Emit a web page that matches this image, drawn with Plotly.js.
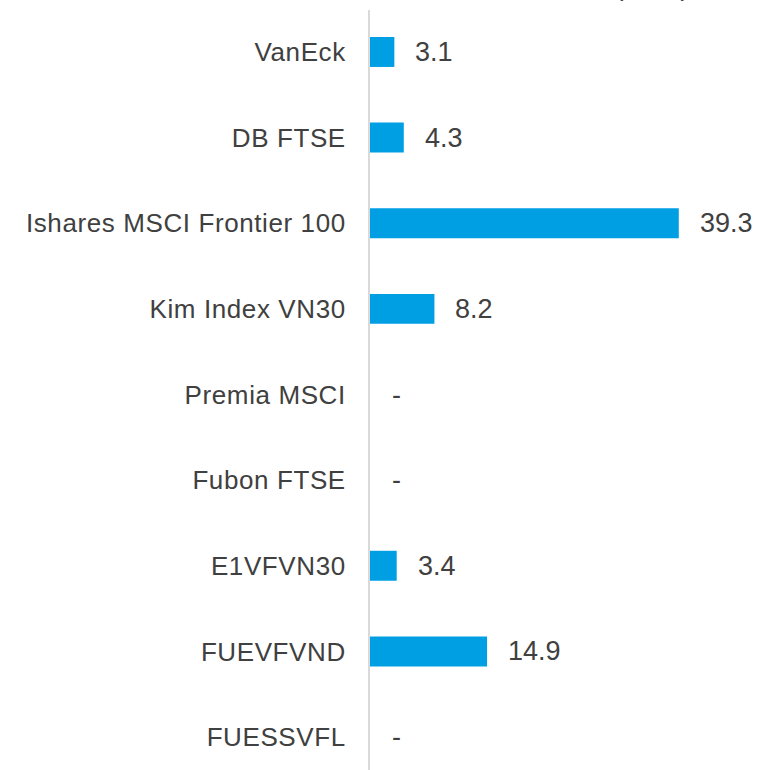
<!DOCTYPE html>
<html><head><meta charset="utf-8">
<script src="https://cdn.plot.ly/plotly-3.0.1.min.js"></script>
<style>html,body{margin:0;padding:0;background:#fff;}#chart{width:760px;height:770px;}
#chart .ytick text{letter-spacing:0.6px;}</style>
</head><body><div id="chart"></div>
<script>
const categories = ["VanEck","DB FTSE","Ishares MSCI Frontier 100","Kim Index VN30","Premia MSCI","Fubon FTSE","E1VFVN30","FUEVFVND","FUESSVFL"];
const values = [3.1, 4.3, 39.3, 8.2, null, null, 3.4, 14.9, null];
const labels = values.map(v => v === null ? "-" : v.toFixed(1));
const unitTitle = "AUM (USD)";

const catFont = {family: "Liberation Sans, Arial, sans-serif", size: 26, color: "#404040"};
const valFont = {family: "Liberation Sans, Arial, sans-serif", size: 27, color: "#404040"};

const trace = {
  type: "bar", orientation: "h",
  y: categories, x: values.map(v => v === null ? 0 : v),
  marker: {color: "#009FE3"}, width: 0.35,
  hoverinfo: "skip"
};

const annotations = categories.map((c, i) => ({
  x: values[i] === null ? 0 : values[i], y: c, xref: "x", yref: "y",
  text: labels[i], showarrow: false, xanchor: "left", xshift: values[i] === null ? 20 : 19,
  font: valFont
}));
annotations.push({
  xref: "paper", yref: "paper", x: 0.836, y: 1.0, xanchor: "right", yanchor: "bottom",
  yshift: 7, text: unitTitle, showarrow: false, font: valFont
});

const layout = {
  width: 760, height: 770,
  margin: {l: 370, r: 5, t: 10, b: 0},
  paper_bgcolor: "#fff", plot_bgcolor: "#fff",
  showlegend: false,
  xaxis: {range: [0, 49], showgrid: false, zeroline: false, showticklabels: false, showline: false, fixedrange: true},
  yaxis: {type: "category", range: [8.385, -0.49], showgrid: false, zeroline: false,
          showline: true, linecolor: "#d9d9d9", linewidth: 2, ticks: "", ticklabelstandoff: 17,
          tickfont: catFont, automargin: false},
  annotations: annotations
};
Plotly.newPlot("chart", [trace], layout, {displayModeBar: false, staticPlot: true});
</script></body></html>
